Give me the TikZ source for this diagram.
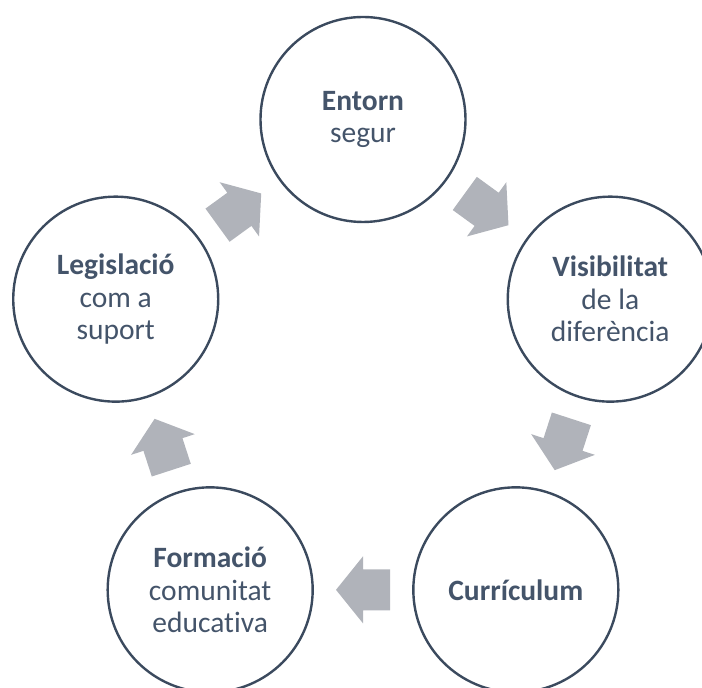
\documentclass[tikz,border=0pt]{standalone}
\usepackage{fontspec}
\setmainfont{Carlito}[Ligatures={NoCommon,NoRare}]
\usetikzlibrary{calc}
\definecolor{ring}{HTML}{3B4A5E}
\definecolor{txt}{HTML}{44546A}
\definecolor{arr}{HTML}{B0B3BA}
\begin{document}
\begin{tikzpicture}[x=1pt,y=1pt,
  stage/.style={circle, draw=ring, line width=2.4pt, minimum size=205pt, inner sep=0pt,
    align=center, text=txt, font=\fontsize{29.5}{32.5}\selectfont},
  cyclearrow/.pic={\fill[arr] (-27,20.5) -- (0,20.5) -- (0,33.5) -- (27,0) -- (0,-33.5) -- (0,-20.5) -- (-27,-20.5) -- cycle;}
  ]
\useasboundingbox (0,0) rectangle (702,688);
\clip (0,0) rectangle (702,688);
\coordinate (o) at (363,308.5);
\node[stage] (e) at ($(o)+(90:260)$) {\textbf{Entorn}\\segur};
\node[stage] (v) at ($(o)+(18:260)$) {\textbf{Visibilitat}\\de la\\diferència};
\node[stage] (c) at ($(o)+(-54:260)$) {\textbf{Currículum}};
\node[stage] (f) at ($(o)+(-126:260)$) {\textbf{Formació}\\comunitat\\educativa};
\node[stage] (l) at ($(o)+(162:260)$) {\textbf{Legislació}\\com a\\suport};
\pic[rotate=-36] at ($(e.center)!0.5!(v.center)$) {cyclearrow};
\pic[rotate=-108] at ($(v.center)!0.5!(c.center)$) {cyclearrow};
\pic[rotate=180] at ($(c.center)!0.5!(f.center)$) {cyclearrow};
\pic[rotate=108] at ($(f.center)!0.5!(l.center)$) {cyclearrow};
\pic[rotate=36] at ($(l.center)!0.5!(e.center)$) {cyclearrow};
\end{tikzpicture}
\end{document}
